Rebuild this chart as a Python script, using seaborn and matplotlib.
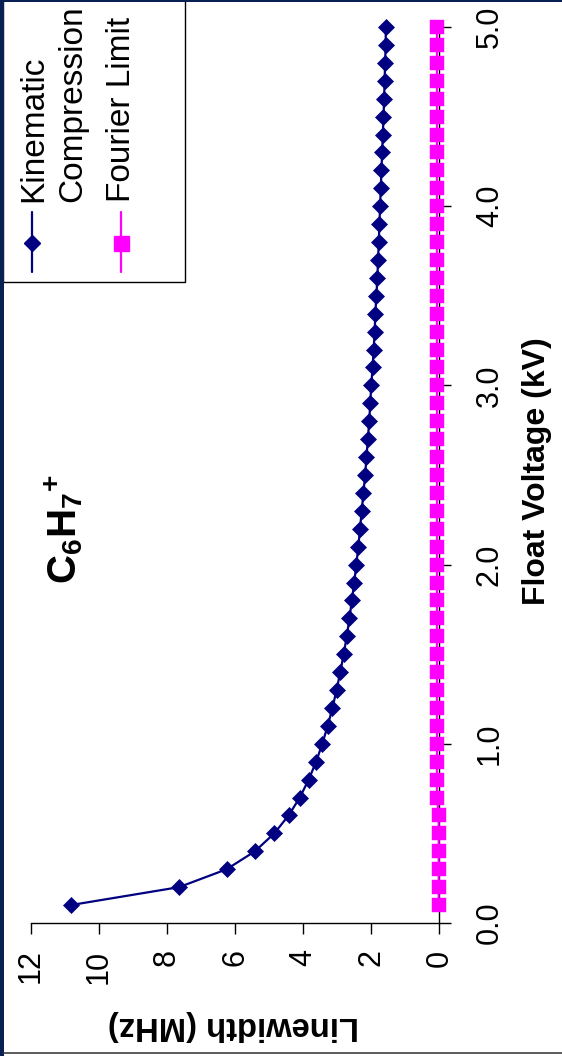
import matplotlib
matplotlib.use("Agg")
import matplotlib.pyplot as plt
import seaborn as sns
from matplotlib.patches import Rectangle

# ---------------- data ----------------
voltage_kv = [0.1, 0.2, 0.3, 0.4, 0.5, 0.6, 0.7, 0.8, 0.9, 1.0,
              1.1, 1.2, 1.3, 1.4, 1.5, 1.6, 1.7, 1.8, 1.9, 2.0,
              2.1, 2.2, 2.3, 2.4, 2.5, 2.6, 2.7, 2.8, 2.9, 3.0,
              3.1, 3.2, 3.3, 3.4, 3.5, 3.6, 3.7, 3.8, 3.9, 4.0,
              4.1, 4.2, 4.3, 4.4, 4.5, 4.6, 4.7, 4.8, 4.9, 5.0]
kinematic_mhz = [10.83, 7.65, 6.25, 5.42, 4.85, 4.43, 4.10, 3.84, 3.62, 3.44,
                 3.28, 3.14, 3.02, 2.91, 2.81, 2.72, 2.64, 2.57, 2.50, 2.44,
                 2.38, 2.33, 2.28, 2.23, 2.18, 2.14, 2.10, 2.06, 2.03, 2.00,
                 1.96, 1.93, 1.90, 1.88, 1.85, 1.82, 1.80, 1.78, 1.76, 1.74,
                 1.72, 1.70, 1.68, 1.66, 1.64, 1.62, 1.61, 1.59, 1.58, 1.57]
fourier_mhz = [0.02, 0.02, 0.02, 0.02, 0.02, 0.02, 0.07, 0.07, 0.07, 0.07,
               0.07, 0.07, 0.07, 0.07, 0.07, 0.07, 0.07, 0.07, 0.07, 0.07,
               0.07, 0.07, 0.07, 0.07, 0.07, 0.07, 0.07, 0.07, 0.07, 0.07,
               0.07, 0.07, 0.07, 0.07, 0.07, 0.07, 0.07, 0.07, 0.07, 0.07,
               0.07, 0.07, 0.07, 0.07, 0.07, 0.07, 0.07, 0.07, 0.07, 0.07]
series_names = ["Kinematic", "Compression", "Fourier Limit"]
linewidth_ticks = [0, 2, 4, 6, 8, 10, 12]
linewidth_ticklabels = ["0", "2", "4", "6", "8", "10", "12"]
voltage_ticks = [0.0, 1.0, 2.0, 3.0, 4.0, 5.0]
voltage_ticklabels = ["0.0", "1.0", "2.0", "3.0", "4.0", "5.0"]
title_text = r"$\mathbf{C_6H_7}^{\mathbf{+}}$"
xlabel_text = "Linewidth (MHz)"
ylabel_text = "Float Voltage (kV)"

NAVY = "#000080"
MAGENTA = "#FF00FF"
FRAME = "#0b2052"

# ---------------- style ----------------
sns.set_style("white")
plt.rcParams["font.family"] = ["Liberation Sans", "DejaVu Sans"]
plt.rcParams["mathtext.fontset"] = "custom"
plt.rcParams["mathtext.bf"] = "Liberation Sans:bold"
plt.rcParams["mathtext.rm"] = "Liberation Sans"
for k in ["text.color", "axes.labelcolor", "xtick.color", "ytick.color", "axes.edgecolor"]:
    plt.rcParams[k] = "black"

W, H, DPI = 562, 1056, 100
fig = plt.figure(figsize=(W / DPI, H / DPI), dpi=DPI, facecolor="white")


def px_box(x0, y0, x1, y1):
    return [x0 / W, 1 - y1 / H, (x1 - x0) / W, (y1 - y0) / H]


# main axes (chart drawn rotated: linewidth horizontal, voltage vertical)
ax = fig.add_axes(px_box(31, 27, 439.3, 923))
ax.set_facecolor("white")

sns.lineplot(x=kinematic_mhz, y=voltage_kv, orient="y", sort=False, estimator=None,
             color=NAVY, linewidth=1.6, marker="D", markersize=8.0,
             markeredgecolor=NAVY, markeredgewidth=0.5, ax=ax, clip_on=False, zorder=4)
sns.lineplot(x=fourier_mhz, y=voltage_kv, orient="y", sort=False, estimator=None,
             color=MAGENTA, linewidth=1.5, marker="s", markersize=10.4,
             markeredgecolor=MAGENTA, markeredgewidth=0.3, ax=ax, clip_on=False, zorder=3)

ax.set_xlim(12, 0)
ax.set_ylim(0, 5.0)

for s in ["top", "left"]:
    ax.spines[s].set_visible(False)
for s in ["right", "bottom"]:
    ax.spines[s].set_color("black")
    ax.spines[s].set_linewidth(1.0)
    ax.spines[s].set_zorder(2)

ax.yaxis.tick_right()
ax.tick_params(axis="x", bottom=True, direction="out", length=8, width=1,
               labelsize=22, pad=11)
ax.tick_params(axis="y", right=True, left=False, labelright=True, labelleft=False,
               direction="out", length=8.6, width=1, labelsize=22, pad=17)
ax.set_xticks(linewidth_ticks)
ax.set_xticklabels(linewidth_ticklabels, rotation=90, va="top", ha="center")
ax.set_yticks(voltage_ticks)
ax.set_yticklabels(voltage_ticklabels, rotation=90, va="center", ha="left")

# overlay in pixel coordinates (top-left origin)
ov = fig.add_axes([0, 0, 1, 1], zorder=5)
ov.set_xlim(0, W)
ov.set_ylim(H, 0)
ov.axis("off")
ov.patch.set_alpha(0)

# axis labels (real axis labels, placed in pixel coords)
ax.set_ylabel(ylabel_text, fontsize=23, fontweight="bold")
ax.yaxis.set_label_position("right")
ax.yaxis.set_label_coords(545, 605, transform=ov.transData)
ax.yaxis.label.set(rotation=90, rotation_mode="anchor", ha="left", va="baseline")

ax.set_xlabel(xlabel_text, fontsize=23.6, fontweight="bold")
ax.xaxis.set_label_coords(359, 1017, transform=ov.transData)
ax.xaxis.label.set(rotation=180, rotation_mode="anchor", ha="left", va="baseline")

# title-like annotation
ov.text(76, 584, title_text, fontsize=29, rotation=90, rotation_mode="anchor",
        ha="left", va="baseline")

# legend box (drawn manually because its text is rotated)
ov.add_patch(Rectangle((3, -2), 182, 284, facecolor="white", edgecolor="black",
                       linewidth=1.0, zorder=1))
ov.plot([32, 32], [212, 272], color=NAVY, linewidth=1.6, zorder=2)
ov.plot([32], [243], marker="D", markersize=8.5, color=NAVY, zorder=3)
ov.plot([121, 121], [212, 272], color=MAGENTA, linewidth=1.6, zorder=2)
ov.plot([121], [243], marker="s", markersize=10.8, color=MAGENTA, zorder=3)
legend_anchor_x = [42, 81, 130]
for name, bx in zip(series_names, legend_anchor_x):
    ov.text(bx, 202, name, fontsize=24, rotation=90, rotation_mode="anchor",
            ha="left", va="baseline", zorder=4)

# slide frame
ov.add_patch(Rectangle((0, 0), 3.5, H, facecolor=FRAME, edgecolor="none", zorder=6))
ov.add_patch(Rectangle((0, 0), W, 2.2, facecolor=FRAME, edgecolor="none", zorder=6))
ov.plot([3.5, W], [1052.5, 1052.5], color="#404040", linewidth=1.2, zorder=6)

fig.savefig("out.png", dpi=DPI, facecolor="white")
